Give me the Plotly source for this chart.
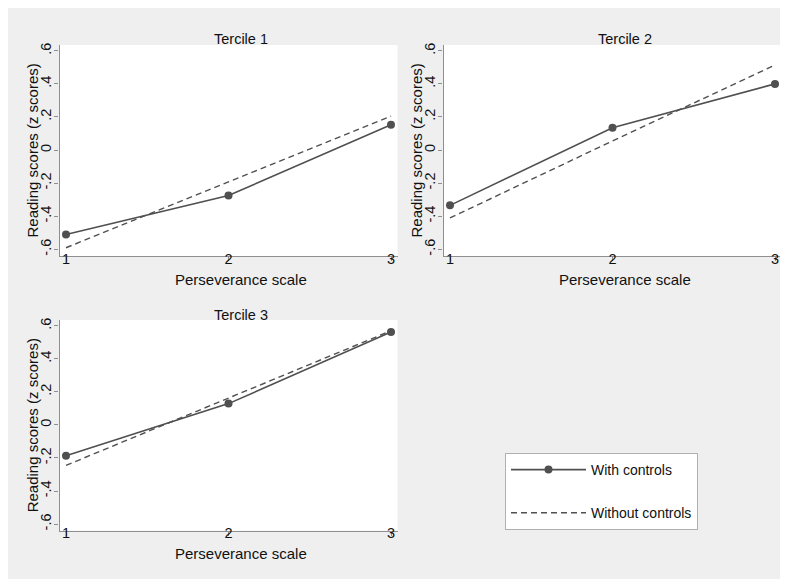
import plotly.graph_objects as go

# ---------------- data ----------------
perseverance = [1, 2, 3]
panel_titles = ["Tercile 1", "Tercile 2", "Tercile 3"]
with_controls_t1 = [-0.51, -0.275, 0.153]
without_controls_t1 = [-0.59, -0.193, 0.205]
with_controls_t2 = [-0.334, 0.135, 0.40]
without_controls_t2 = [-0.41, 0.055, 0.514]
with_controls_t3 = [-0.187, 0.129, 0.562]
without_controls_t3 = [-0.245, 0.162, 0.57]
y_tickvals = [-0.6, -0.4, -0.2, 0, 0.2, 0.4, 0.6]
y_ticktext = ["-.6", "-.4", "-.2", "0", ".2", ".4", ".6"]
x_tickvals = [1, 2, 3]
x_ticktext = ["1", "2", "3"]
legend_names = ["With controls", "Without controls"]
x_title = "Perseverance scale"
y_title = "Reading scores (z scores)"

# figure sits at (8, 8) inside the page because of the default body margin
W, H = 780, 571
OX, OY = 8, 8
FONT = "Liberation Sans, Arial, Helvetica, sans-serif"
LINE_COL = "#505050"
AXIS_COL = "#8f8f8f"
BG = "#efefef"
TXT = "#111111"

def px_x(p):
    return (p - OX) / W

def px_y(p):
    return 1 - (p - OY) / H

# panel pixel boxes in page coords: (left, right, top, bottom)
boxes = [(59.5, 397.5, 45, 256), (443.5, 781.5, 45, 256), (59.5, 397.5, 320, 530.7)]
series = [(with_controls_t1, without_controls_t1),
          (with_controls_t2, without_controls_t2),
          (with_controls_t3, without_controls_t3)]

fig = go.Figure()
for i, (w, wo) in enumerate(series):
    xa = "x" if i == 0 else f"x{i+1}"
    ya = "y" if i == 0 else f"y{i+1}"
    fig.add_trace(go.Scatter(
        x=perseverance, y=w, mode="lines+markers", name=legend_names[0],
        line=dict(color=LINE_COL, width=1.6),
        marker=dict(color=LINE_COL, size=8),
        xaxis=xa, yaxis=ya, showlegend=(i == 0), legendgroup="a"))
    fig.add_trace(go.Scatter(
        x=perseverance, y=wo, mode="lines", name=legend_names[1],
        line=dict(color=LINE_COL, width=1.4, dash="6px,4px"),
        xaxis=xa, yaxis=ya, showlegend=(i == 0), legendgroup="b"))

layout = dict(
    width=W, height=H, template="none",
    margin=dict(l=0, r=0, t=0, b=0, pad=0),
    paper_bgcolor=BG, plot_bgcolor="white",
    font=dict(family=FONT, size=14, color=TXT),
    showlegend=True,
    legend=dict(
        x=px_x(505), y=px_y(453), xanchor="left", yanchor="top",
        bgcolor="white", bordercolor="#b0b0b0", borderwidth=1,
        font=dict(family=FONT, size=14, color=TXT),
        itemwidth=75, traceorder="grouped", tracegroupgap=22,
    ),
)

annotations = []
for i, (l, r, t, b) in enumerate(boxes):
    sfx = "" if i == 0 else str(i + 1)
    layout["xaxis" + sfx] = dict(
        domain=[px_x(l), px_x(r)], range=[0.96, 3.04],
        anchor="y" + sfx, tickvals=x_tickvals, ticktext=x_ticktext,
        showline=True, linecolor=AXIS_COL, linewidth=1.2, mirror=False,
        ticks="outside", ticklen=4, tickcolor=AXIS_COL, showgrid=False,
        zeroline=False, ticklabelstandoff=-15, automargin=False,
        tickfont=dict(size=14.5, color=TXT),
    )
    layout["yaxis" + sfx] = dict(
        domain=[px_y(b), px_y(t)], range=[-0.64, 0.635],
        anchor="x" + sfx, tickvals=y_tickvals, ticktext=y_ticktext,
        showline=True, linecolor=AXIS_COL, linewidth=1.2, mirror=False,
        ticks="outside", ticklen=4, tickcolor=AXIS_COL, showgrid=False,
        zeroline=False, tickangle=-90, automargin=False,
        ticklabelstandoff=-2, tickfont=dict(size=14.5, color=TXT),
    )
    cx = (l + r) / 2 + 12
    annotations.append(dict(text=panel_titles[i], xref="paper", yref="paper",
                            x=px_x(cx), y=px_y(t - 5.5), xanchor="center", yanchor="middle",
                            showarrow=False, font=dict(size=14.5)))
    annotations.append(dict(text=x_title, xref="paper", yref="paper",
                            x=px_x(cx), y=px_y(b + 23), xanchor="center", yanchor="middle",
                            showarrow=False, font=dict(size=15)))
    annotations.append(dict(text=y_title, xref="paper", yref="paper",
                            x=px_x(l - 27.5), y=px_y((t + b) / 2), xanchor="center", yanchor="middle",
                            textangle=-90, showarrow=False, font=dict(size=15)))

layout["annotations"] = annotations
fig.update_layout(**layout)
fig.write_html("out.html")
